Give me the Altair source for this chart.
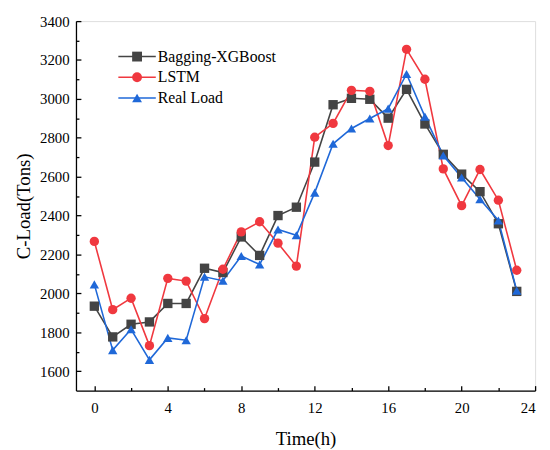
import altair as alt
import pandas as pd

hours = list(range(24))
bagging = [1934, 1776, 1841, 1853, 1948, 1948, 2129, 2107, 2290, 2195, 2400, 2443,
           2675, 2970, 3003, 2998, 2901, 3049, 2871, 2715, 2613, 2523, 2358, 2010]
lstm = [2267, 1916, 1975, 1731, 2077, 2063, 1870, 2124, 2316, 2368, 2258, 2140,
        2803, 2874, 3044, 3039, 2760, 3255, 3101, 2640, 2451, 2637, 2479, 2119]
real = [2046, 1708, 1815, 1658, 1771, 1759, 2085, 2065, 2192, 2148, 2328, 2299,
        2518, 2769, 2848, 2899, 2950, 3128, 2909, 2709, 2596, 2484, 2375, 2014]

series = ["Bagging-XGBoost", "LSTM", "Real Load"]
colors = ["#444444", "#F0383F", "#1F68D8"]
shapes = ["square", "circle", "triangle-up"]
x_major = [0, 4, 8, 12, 16, 20, 24]
x_minor = [2, 6, 10, 14, 18, 22]
y_major = [1600, 1800, 2000, 2200, 2400, 2600, 2800, 3000, 3200, 3400]
y_minor = [1700, 1900, 2100, 2300, 2500, 2700, 2900, 3100, 3300]

rows = []
for name, vals in zip(series, [bagging, lstm, real]):
    for h, v in zip(hours, vals):
        rows.append({"h": h, "v": v, "s": name, "s2": name})
df = pd.DataFrame(rows)

FONT = "Liberation Serif"
xs = alt.Scale(domain=[-1, 24], nice=False, zero=False)
ys = alt.Scale(domain=[1500, 3400], nice=False, zero=False)

major_x = alt.Axis(values=x_major, grid=False, tickSize={"expr": "-5"}, tickWidth=1.3,
                   tickColor="black", domainColor="black", domainWidth=1.3, format="d",
                   labelFont=FONT, labelFontSize=15, labelColor="black", labelPadding=15,
                   title="Time(h)", titleFont=FONT, titleFontSize=19, titleFontWeight="normal",
                   titleColor="black", titlePadding=15, orient="bottom")
major_y = alt.Axis(values=y_major, grid=False, tickSize={"expr": "-5"}, tickWidth=1.3,
                   tickColor="black", domainColor="black", domainWidth=1.3, format="d",
                   labelFont=FONT, labelFontSize=15, labelColor="black", labelPadding=12,
                   title="C-Load(Tons)", titleFont=FONT, titleFontSize=19,
                   titleFontWeight="normal", titleColor="black", titlePadding=6, orient="left")
minor_x = alt.Axis(values=x_minor, grid=False, tickSize={"expr": "-3"}, tickWidth=1.3,
                   tickColor="black", domain=False, labels=False, title=None, orient="bottom")
minor_y = alt.Axis(values=y_minor, grid=False, tickSize={"expr": "-3"}, tickWidth=1.3,
                   tickColor="black", domain=False, labels=False, title=None, orient="left")

LX, LY = 54, 28

line_legend = alt.Legend(orient="none", legendX=LX, legendY=LY, title=None, symbolSize=100,
                         symbolType="M-3.8,0H3.8", symbolStrokeWidth=1.6,
                         labelFont=FONT, labelFontSize=16, labelColor="black",
                         labelOffset=13, rowPadding=5, padding=0)
mark_legend = alt.Legend(orient="none", legendX=LX, legendY=LY, title=None, symbolSize=100,
                         symbolStrokeWidth=0, labelFont=FONT, labelFontSize=16,
                         labelColor="black", labelOpacity=0, labelOffset=13,
                         rowPadding=5, padding=0)

base = alt.Chart(df)

lines = base.mark_line(strokeWidth=1.6).encode(
    x=alt.X("h:Q", scale=xs, axis=major_x),
    y=alt.Y("v:Q", scale=ys, axis=major_y),
    stroke=alt.Stroke("s:N", scale=alt.Scale(domain=series, range=colors), legend=line_legend),
)

points = base.mark_point(filled=True, size=90, opacity=1, strokeWidth=0).encode(
    x=alt.X("h:Q", scale=xs, axis=minor_x),
    y=alt.Y("v:Q", scale=ys, axis=minor_y),
    fill=alt.Fill("s2:N", scale=alt.Scale(range=colors), legend=mark_legend),
    shape=alt.Shape("s2:N", scale=alt.Scale(range=shapes), legend=mark_legend),
)

chart = alt.layer(lines, points).resolve_axis(
    x="independent", y="independent"
).properties(
    width=466, height=375,
    autosize=alt.AutoSizeParams(type="none"),
    padding={"left": 69, "top": 10, "right": 7, "bottom": 56},
).configure_view(stroke="black", strokeWidth=1.3).configure_axis(
    labelFont=FONT, titleFont=FONT
).configure_legend(labelFont=FONT).configure(background="white")

chart.save("out.html", embed_options={"renderer": "svg", "actions": False})
